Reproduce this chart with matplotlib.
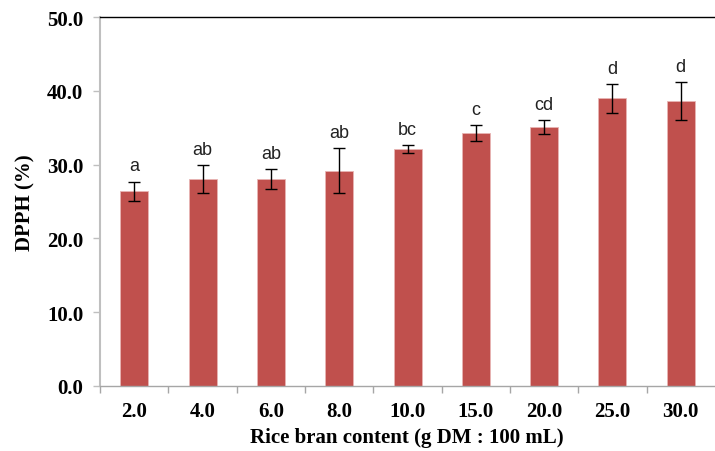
import matplotlib
matplotlib.use("Agg")
import matplotlib.pyplot as plt
import numpy as np

BAR_RED = "#C0504D"
AXIS_GREY = "#BFBFBF"
SERIF = ["Liberation Serif", "DejaVu Serif"]
SANS = ["Liberation Sans", "DejaVu Sans"]

contents = ["2.0", "4.0", "6.0", "8.0", "10.0", "15.0", "20.0", "25.0", "30.0"]
dpph = [26.4, 28.1, 28.0, 29.2, 32.1, 34.3, 35.1, 39.0, 38.6]
dpph_err = [1.3, 1.9, 1.35, 3.0, 0.5, 1.05, 0.95, 1.95, 2.55]
letters = ["a", "ab", "ab", "ab", "bc", "c", "cd", "d", "d"]
y_ticks = [0, 10, 20, 30, 40, 50]


def style_axes(ax):
    ax.spines["right"].set_visible(False)
    ax.spines["top"].set_color("black")
    ax.spines["top"].set_linewidth(1.0)
    ax.spines["left"].set_color(AXIS_GREY)
    ax.spines["left"].set_linewidth(1.5)
    ax.spines["bottom"].set_color("#A6A6A6")
    ax.spines["bottom"].set_linewidth(1.0)


def main():
    fig = plt.figure(figsize=(7.15, 4.52), dpi=100)
    ax = fig.add_axes([0.140, 0.144, 0.858, 0.816])

    x = np.arange(len(contents))
    ax.bar(x, dpph, width=0.41, color=BAR_RED, edgecolor="#E8B5B4",
           linewidth=0.6, zorder=2)
    ax.errorbar(x, dpph, yerr=dpph_err, fmt="none", ecolor="black",
                elinewidth=1.0, capsize=4, capthick=1.0, zorder=3)

    for xi, yi, ei, lab in zip(x, dpph, dpph_err, letters):
        ax.annotate(lab, (xi, yi + ei), xytext=(0, 8), textcoords="offset points",
                    ha="center", va="baseline", fontsize=13,
                    family=SANS, color="#222222")

    ax.set_xlim(-0.5, 8.48)
    ax.set_ylim(0, 50)
    ax.set_yticks(y_ticks)
    ax.set_yticklabels([f"{v:.1f}" for v in y_ticks])
    ax.set_xticks(np.arange(-0.5, 8.5, 1.0))
    ax.set_xticklabels([])
    ax.set_xticks(x, minor=True)
    ax.set_xticklabels(contents, minor=True)
    ax.tick_params(axis="x", which="major", direction="out", length=5,
                   color="#A6A6A6", width=1.0)
    ax.tick_params(axis="x", which="minor", length=0, pad=11)
    ax.tick_params(axis="y", direction="out", length=5, color=AXIS_GREY,
                   width=1.0, pad=7)
    for lbl in ax.get_xticklabels(minor=True) + ax.get_yticklabels():
        lbl.set_fontfamily(SERIF)
        lbl.set_fontweight("bold")
        lbl.set_fontsize(15)

    style_axes(ax)

    ax.set_xlabel("Rice bran content (g DM : 100 mL)", family=SERIF,
                  fontweight="bold", fontsize=15, labelpad=4)
    ax.set_ylabel("DPPH (%)", family=SERIF, fontweight="bold", fontsize=15,
                  labelpad=8)

    fig.savefig("out.png", dpi=100)
    plt.close(fig)


if __name__ == "__main__":
    main()
